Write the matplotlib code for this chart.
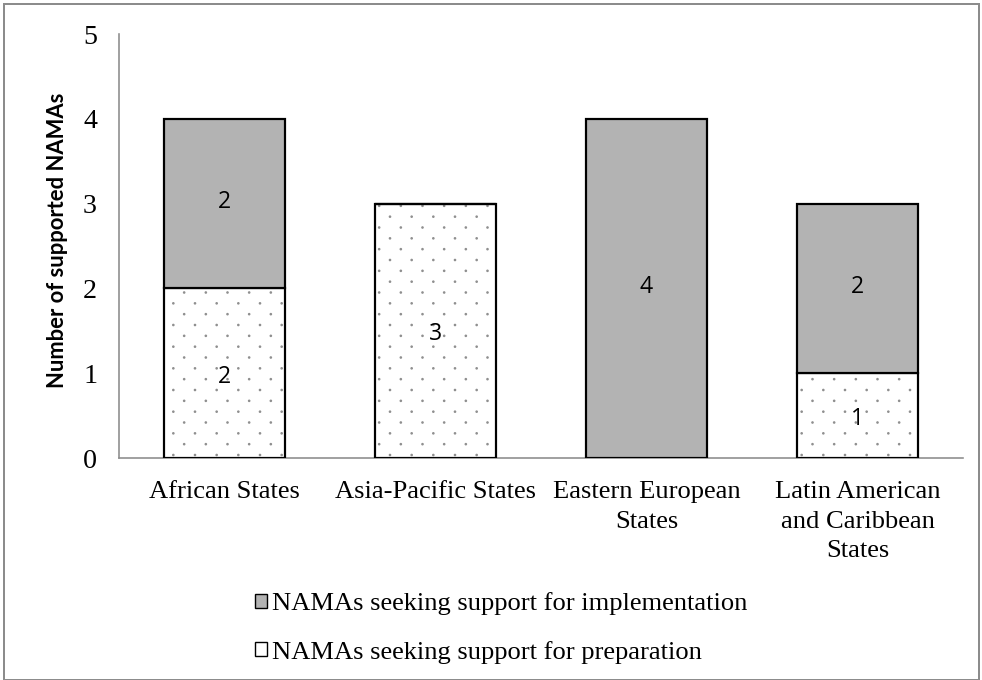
import numpy as np
import matplotlib.pyplot as plt
import matplotlib.hatch as mhatch
from matplotlib.path import Path
from matplotlib.patches import Rectangle, Patch

categories = ['African States', 'Asia-Pacific States', 'Eastern European\nStates',
              'Latin American\nand Caribbean\nStates']
preparation = [2, 3, 0, 1]
implementation = [2, 0, 4, 2]
series_names = ['NAMAs seeking support for implementation',
                'NAMAs seeking support for preparation']

DPI = 130  # hatch tile = 1 inch, so dpi sets the dot spacing


def pt(px):
    # all sizes below are given in pixels
    return px * 72.0 / DPI


class OfficeDots(mhatch.HatchPatternBase):
    # '.' hatch like the dotted Office fill: dots 1/n apart in a row,
    # rows 1/(2n) apart, every other row shifted by half a step
    def __init__(self, hatch, density):
        self.n = hatch.count('.') * density
        circle = Path.unit_circle()
        self.dot_v = circle.vertices
        self.dot_c = circle.codes
        self.num_vertices = len(self.centres()) * len(self.dot_v) if self.n else 0

    def centres(self):
        n = self.n
        pts = []
        for row in range(2 * n + 1):
            xs = np.arange(n + 1) / n if row % 2 == 0 else (np.arange(n) + 0.5) / n
            pts += [(xx, row / (2.0 * n)) for xx in xs]
        return pts

    def set_vertices_and_codes(self, vertices, codes):
        r = 0.03 / self.n
        parts = [self.dot_v * r + c for c in self.centres()]
        vertices[:] = np.concatenate(parts)
        codes[:] = np.tile(self.dot_c, len(parts))


mhatch._hatch_types = [OfficeDots if t is mhatch.SmallFilledCircles else t
                       for t in mhatch._hatch_types]
plt.rcParams['hatch.linewidth'] = pt(1.3)

fig = plt.figure(figsize=(982 / DPI, 680 / DPI), dpi=DPI)
ax = fig.add_axes([119 / 982, 1 - 458 / 680, 844 / 982, 424 / 680])

x = np.arange(len(categories))
w = 0.573
prep = np.array(preparation)
impl = np.array(implementation)

# dotted fill (grey dots), then black outlines on top
ax.bar(x, prep, w, color='white', edgecolor='#8f8f8f', lw=0, hatch='.', zorder=2)
ax.bar(x, prep, w, fill=False, edgecolor='black', lw=pt(2.2), zorder=3)
ax.bar(x, impl, w, bottom=prep, color='#b3b3b3', edgecolor='black', lw=pt(2.2), zorder=3)

lab_font = dict(family='Open Sans', fontsize=pt(23), ha='center', va='center', zorder=4)
for i in range(len(x)):
    if prep[i] > 0:
        ax.text(x[i], prep[i] / 2 - 0.04, str(prep[i]), **lab_font)
    if impl[i] > 0:
        ax.text(x[i], prep[i] + impl[i] / 2 + 0.02, str(impl[i]), **lab_font)

ax.set_xlim(-0.5, 3.5)
ax.set_ylim(0, 5)
ax.set_yticks(range(6))
ax.set_xticks(x)
ax.set_xticklabels(categories, family='Liberation Serif', fontsize=pt(26.5), linespacing=1.45)
for t in ax.get_yticklabels():
    t.set_family('Liberation Serif')
    t.set_fontsize(pt(28))
ax.tick_params(length=0, pad=pt(22), axis='y')
ax.tick_params(length=0, pad=pt(23), axis='x')
for s in ['top', 'right']:
    ax.spines[s].set_visible(False)
for s in ['left', 'bottom']:
    ax.spines[s].set_color('#8c8c8c')
    ax.spines[s].set_linewidth(pt(1.6))
ax.set_ylabel('Number of supported NAMAs', family='Lato', fontweight='bold',
              fontsize=pt(22))
ax.yaxis.set_label_coords(-51 / 844, (458 - 240) / 424)

handles = [Patch(facecolor='#b3b3b3', edgecolor='black', lw=pt(1.4)),
           Patch(facecolor='white', edgecolor='black', lw=pt(1.4))]
fig.legend(handles, series_names, loc='center', bbox_to_anchor=(501 / 982, 1 - 628 / 680),
           ncol=1, frameon=False, prop={'family': 'Liberation Serif', 'size': pt(26.5)},
           handlelength=0.45, handleheight=0.45, handletextpad=0.2, labelspacing=0.95,
           borderpad=0, borderaxespad=0)

fig.patches.append(Rectangle((4 / 982, 0), 975 / 982, 1 - 4 / 680, transform=fig.transFigure,
                             fill=False, edgecolor='#8c8c8c', lw=pt(2)))

fig.savefig('out.png', dpi=DPI)
